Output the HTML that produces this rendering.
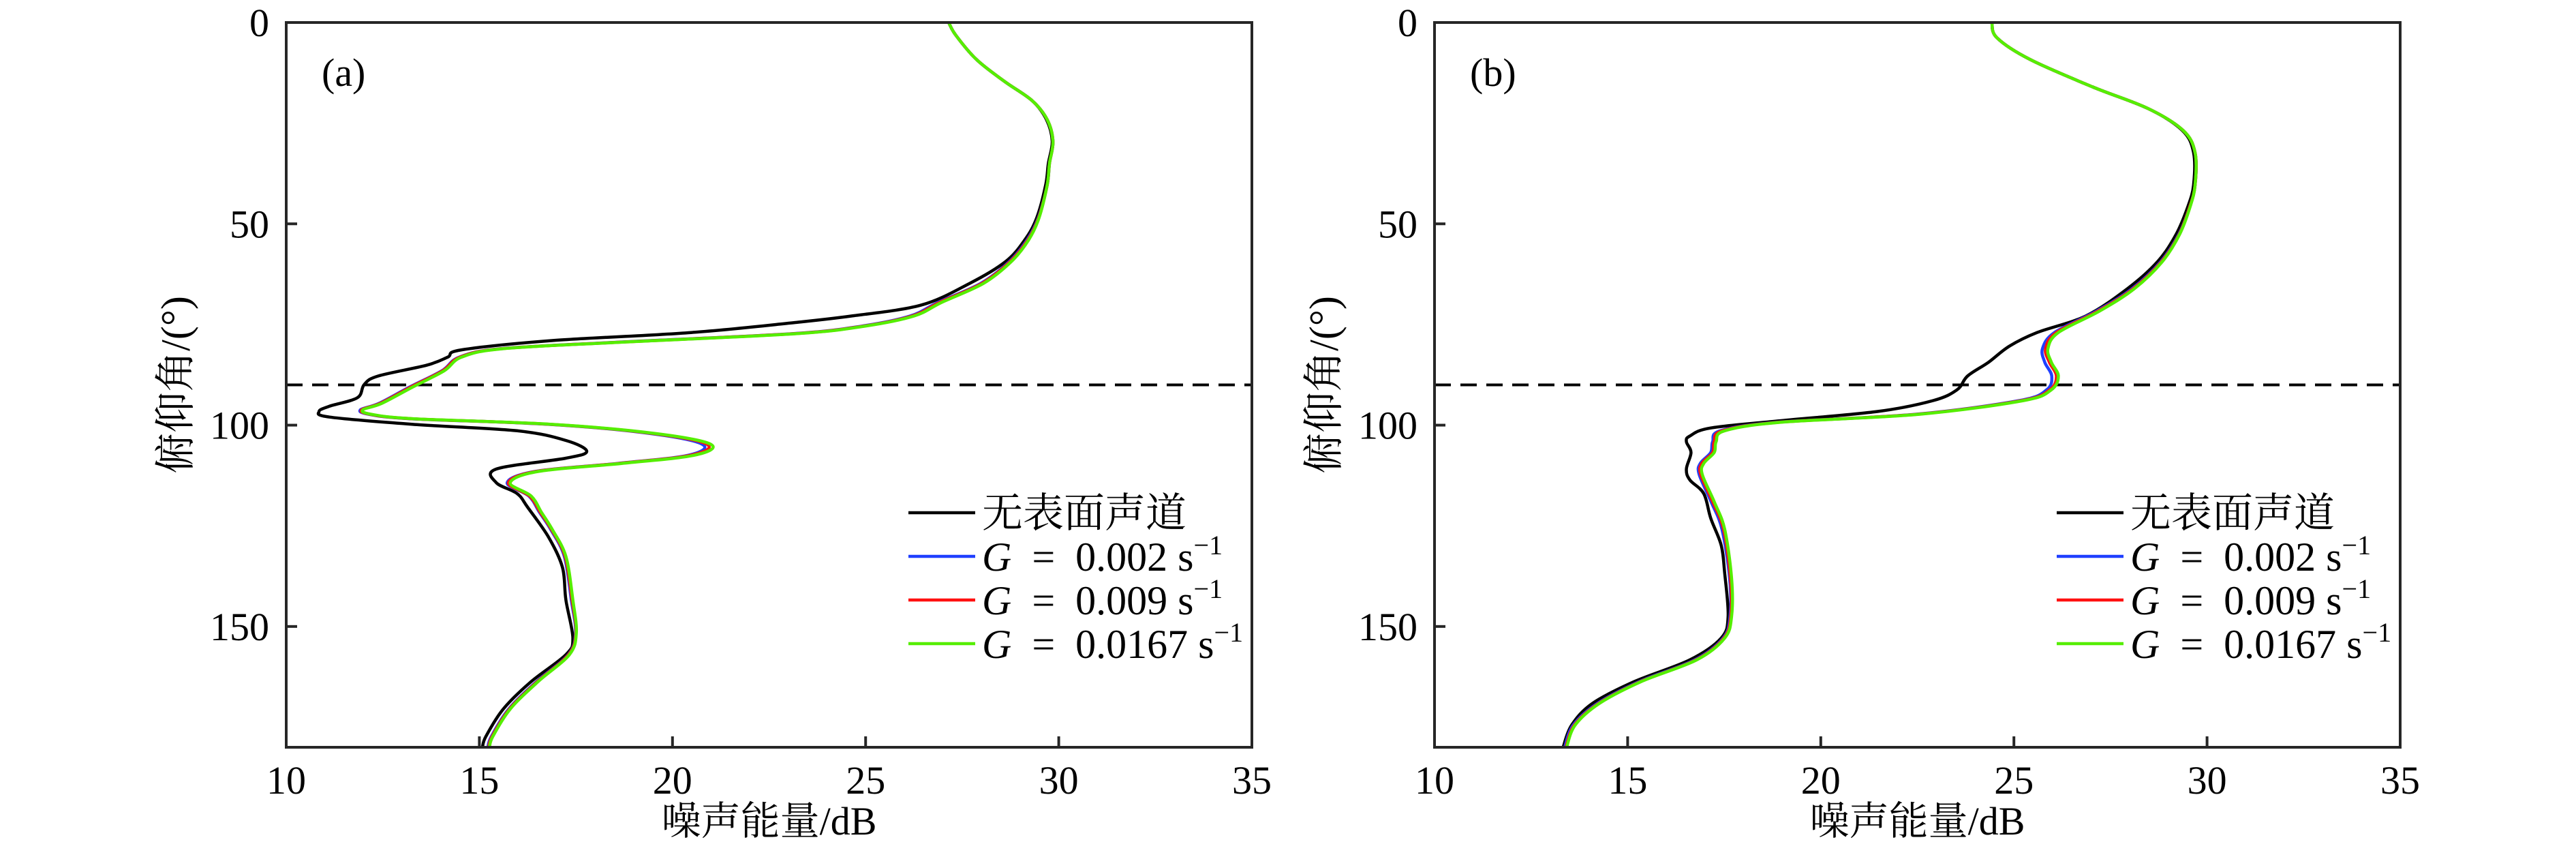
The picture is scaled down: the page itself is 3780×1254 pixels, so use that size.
<!DOCTYPE html>
<html><head><meta charset="utf-8">
<style>
html,body{margin:0;padding:0;background:#fff;}
svg{display:block;}
text{font-family:"Liberation Serif","Noto Serif CJK SC",serif;fill:#000;}
</style></head>
<body>
<svg id="chart" width="3780" height="1254" viewBox="0 0 3780 1254" xmlns="http://www.w3.org/2000/svg"></svg>
<script>
// ---- data ----
const xTicks = [10, 15, 20, 25, 30, 35];
const yTicks = [0, 50, 100, 150];
const seriesNames = ["无表面声道", "G = 0.002", "G = 0.009", "G = 0.0167"];
const seriesColors = ["#000000", "#1f3fff", "#ff1010", "#55ee00"];

// panel (a): angle (deg) arrays and energy (dB) arrays
const aBlackY = [0,3.1,9.2,14.6,19.4,24.1,29.5,35,40.4,48.5,54,59.4,64.8,70.2,72.9,74.5,77,79,81.3,83.1,85.1,87.8,89.9,93.2,95.3,96.6,98,99.8,101.4,103.8,106.5,108.2,110.9,114.3,117,120.4,127.8,135.3,143.4,152.9,157,163.7,170.5,177.3,180];
const aBlackX = [27.15,27.33,27.87,28.59,29.31,29.68,29.83,29.73,29.66,29.43,29.12,28.62,27.69,26.43,24.63,23.18,20.48,16.88,14.54,14.18,13.64,12.38,12.02,11.84,11.12,10.85,11.12,13.28,15.98,17.24,17.78,17.24,15.44,15.44,15.98,16.25,16.79,17.15,17.24,17.42,17.24,16.34,15.62,15.17,15.08];
const aGreenY = [0,3.1,9.2,14.6,19.4,24.1,29.5,35,40.4,48.5,54,59.4,64.8,69.5,72.9,75.4,77.3,79.4,81,83.1,86.5,90.5,94.6,96.2,97.3,98.4,99.8,102.1,104.8,107.5,109.5,111.5,114.3,117.6,121.7,125.8,132.6,143.4,151.5,157,163.7,170.5,177.3,180];
const aGreenX = [27.15,27.33,27.87,28.59,29.31,29.70,29.85,29.76,29.70,29.49,29.22,28.77,28.05,26.97,26.25,24.99,23.18,18.68,15.62,14.54,14.09,13.28,12.47,11.98,12.2,13.28,16.88,19.58,21.0,20.55,18.68,16.52,15.80,16.34,16.61,16.88,17.24,17.42,17.51,17.33,16.52,15.80,15.35,15.26];
const aBlueX  = [27.15,27.33,27.87,28.59,29.31,29.70,29.85,29.76,29.70,29.47,29.18,28.72,27.98,26.88,26.15,24.90,23.08,18.58,15.55,14.48,14.03,13.20,12.40,11.92,12.14,13.2,16.8,19.45,20.78,20.40,18.58,16.44,15.72,16.28,16.56,16.84,17.20,17.38,17.49,17.30,16.48,15.76,15.31,15.22];
const aRedX   = [27.15,27.33,27.87,28.59,29.31,29.70,29.85,29.76,29.70,29.48,29.20,28.74,28.01,26.92,26.20,24.95,23.12,18.62,15.58,14.50,14.05,13.23,12.43,11.95,12.17,13.24,16.84,19.52,20.90,20.46,18.62,16.47,15.75,16.30,16.58,16.86,17.22,17.40,17.50,17.31,16.50,15.78,15.33,15.24];

// panel (b)
const bBlackY = [0,3.8,9.2,16,21.4,26.8,32.3,40.4,45.8,52.6,59.4,66.1,72.9,77,80.4,84.4,87.8,91.2,93.9,96.6,98.9,100.7,102.7,104.1,106.8,110.9,113.6,117,123.1,129.8,136.6,147.5,152.9,158.3,163.7,169.1,174.5,180];
const bBlackX = [24.43,24.56,25.42,27.04,28.48,29.36,29.65,29.65,29.5,29.2,28.72,27.94,26.86,25.60,24.88,24.34,23.80,23.53,22.91,21.47,18.95,17.15,16.61,16.52,16.64,16.52,16.61,16.97,17.15,17.42,17.51,17.60,17.42,16.61,15.17,14.09,13.55,13.33];
const bGreenY = [0,3.8,9.2,16,21.4,26.8,32.3,40.4,45.8,52.6,59.4,66.1,71.6,77,81,84.4,87.8,91.2,93.9,97.3,99.3,101.4,104.1,106.8,109.5,112.2,119,125.8,138,147.5,152.9,158.3,163.7,169.1,174.5,180];
const bGreenX = [24.43,24.56,25.42,27.04,28.48,29.38,29.69,29.69,29.56,29.29,28.84,28.12,27.23,26.15,25.88,25.97,26.15,25.97,25.25,22.55,18.95,17.51,17.29,17.24,16.97,16.93,17.24,17.51,17.69,17.69,17.51,16.79,15.35,14.27,13.64,13.42];
const bBlueX  = [24.43,24.56,25.42,27.04,28.48,29.38,29.69,29.69,29.55,29.27,28.80,28.06,27.15,26.05,25.74,25.80,25.98,25.85,25.14,22.45,18.85,17.40,17.20,17.15,16.88,16.85,17.16,17.44,17.64,17.65,17.47,16.74,15.30,14.22,13.59,13.37];
const bRedX   = [24.43,24.56,25.42,27.04,28.48,29.38,29.69,29.69,29.55,29.28,28.82,28.09,27.19,26.10,25.82,25.92,26.10,25.93,25.20,22.50,18.90,17.45,17.24,17.20,16.92,16.89,17.20,17.48,17.66,17.67,17.49,16.77,15.33,14.25,13.62,13.40];

// ---- layout ----
const NS = "http://www.w3.org/2000/svg";
const svg = document.getElementById("chart");
const TOP = 33, BOT = 1096;
const panels = [
  {id:"a", left:420, right:1837, label:"(a)",
   series:[[aBlackX,aBlackY],[aBlueX,aGreenY],[aRedX,aGreenY],[aGreenX,aGreenY]]},
  {id:"b", left:2105, right:3522, label:"(b)",
   series:[[bBlackX,bBlackY],[bBlueX,bGreenY],[bRedX,bGreenY],[bGreenX,bGreenY]]}
];
function mk(tag, attrs, parent){
  const e = document.createElementNS(NS, tag);
  for (const k in attrs) e.setAttribute(k, attrs[k]);
  (parent||svg).appendChild(e);
  return e;
}
function smoothPath(pts){
  let d = "M"+pts[0][0].toFixed(1)+","+pts[0][1].toFixed(1);
  for (let i=0;i<pts.length-1;i++){
    const p0=pts[Math.max(0,i-1)], p1=pts[i], p2=pts[i+1], p3=pts[Math.min(pts.length-1,i+2)];
    const c1x=p1[0]+(p2[0]-p0[0])/6, c1y=p1[1]+(p2[1]-p0[1])/6;
    const c2x=p2[0]-(p3[0]-p1[0])/6, c2y=p2[1]-(p3[1]-p1[1])/6;
    d+=" C"+c1x.toFixed(1)+","+c1y.toFixed(1)+" "+c2x.toFixed(1)+","+c2y.toFixed(1)+" "+p2[0].toFixed(1)+","+p2[1].toFixed(1);
  }
  return d;
}

panels.forEach(p=>{
  const xs = v => p.left + (v-10)/25*(p.right-p.left);
  const ys = v => TOP + v/180*(BOT-TOP);
  const g = mk("g", {});
  
  

  const cp = mk("clipPath", {id:"clip"+p.id}, g);
  mk("rect", {x:p.left, y:TOP, width:p.right-p.left, height:BOT-TOP}, cp);

  const dl = mk("line", {x1:p.left, x2:p.right, y1:ys(90), y2:ys(90), stroke:"#000", "stroke-width":4, "stroke-dasharray":"24,14"}, g);
  
  

  const sg = mk("g", {"clip-path":"url(#clip"+p.id+")"}, g);
  p.series.forEach((s,i)=>{
    const pts = s[0].map((v,k)=>[xs(v), ys(s[1][k])]);
    const path = mk("path", {d:smoothPath(pts), fill:"none", stroke:seriesColors[i], "stroke-width":4.5, "stroke-linejoin":"round"}, sg);
    
    
  });

  const box = mk("rect", {x:p.left, y:TOP, width:p.right-p.left, height:BOT-TOP, fill:"none", stroke:"#262626", "stroke-width":4}, g);
  
  

  xTicks.forEach(t=>{
    const x = xs(t);
    mk("line", {x1:x, x2:x, y1:BOT, y2:BOT-16, stroke:"#262626", "stroke-width":4}, g);
    const tx = mk("text", {x:x, y:1164, "font-size":58, "text-anchor":"middle"}, g);
    tx.textContent = t;
    
    
  });
  yTicks.forEach(t=>{
    const y = ys(t);
    mk("line", {x1:p.left, x2:p.left+16, y1:y, y2:y, stroke:"#262626", "stroke-width":4}, g);
    const ty = mk("text", {x:p.left-25, y:y+20, "font-size":58, "text-anchor":"end"}, g);
    ty.textContent = t;
    
    
  });

  const xt = mk("text", {x:(p.left+p.right)/2, y:1224, "font-size":58, "text-anchor":"middle"}, g);
  xt.textContent = "噪声能量/dB";
  
  
  const cy = (TOP+BOT)/2, cx = p.left-142;
  const yt = mk("text", {x:cx, y:cy, "font-size":60, "text-anchor":"middle", transform:"rotate(-90 "+cx+" "+cy+")"}, g);
  yt.textContent = "俯仰角/(°)";
  
  

  const pl = mk("text", {x:p.left+52, y:126, "font-size":58}, g);
  pl.textContent = p.label;
  
  

  const lg = mk("g", {}, g);
  
  
  const lx = p.left + 913;
  seriesNames.forEach((name,i)=>{
    const y = 752 + i*64;
    const ln = mk("line", {x1:lx, x2:lx+98, y1:y, y2:y, stroke:seriesColors[i], "stroke-width":4.5}, lg);
    
    
    const t = mk("text", {x:lx+108, y:y+21, "font-size":60}, lg);
    
    
    if (i===0){
      t.textContent = name;
    } else {
      const val = name.split("= ")[1];
      const g1 = mk("tspan", {"font-style":"italic"}, t); g1.textContent = "G";
      const g2 = mk("tspan", {}, t); g2.textContent = "\u2002=\u2002" + val + " s";
      const g3 = mk("tspan", {"font-size":40, dy:-24}, t); g3.textContent = "−1";
    }
  });
});
</script>
</body></html>
